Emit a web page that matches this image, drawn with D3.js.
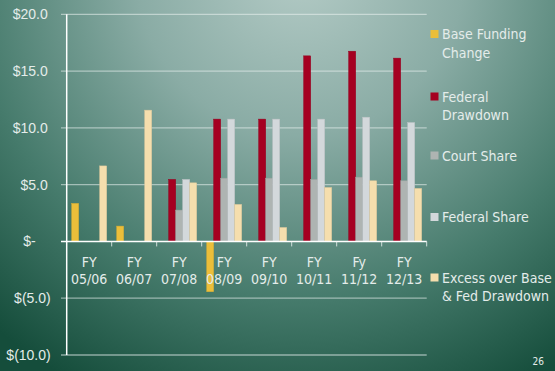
<!DOCTYPE html>
<html><head><meta charset="utf-8">
<script src="https://cdn.jsdelivr.net/npm/d3@7"></script>
<style>
html,body{margin:0;padding:0;overflow:hidden;}
svg{display:block;font-family:"DejaVu Sans Condensed","DejaVu Sans",Verdana,sans-serif;}
</style></head>
<body>
<svg id="chart" width="555" height="371"></svg>
<script>
const categories = ["FY 05/06","FY 06/07","FY 07/08","FY 08/09","FY 09/10","FY 10/11","Fy 11/12","FY 12/13"];
const seriesNames = ["Base Funding Change","Federal Drawdown","Court Share","Federal Share","Excess over Base & Fed Drawdown"];
const legendLines = [["Base Funding","Change"],["Federal","Drawdown"],["Court Share"],["Federal Share"],["Excess over Base","& Fed Drawdown"]];
const baseFunding  = [3.35, 1.35, 0, -4.43, 0, 0, 0, 0];
const fedDrawdown  = [0, 0, 5.46, 10.77, 10.77, 16.34, 16.75, 16.14];
const courtShare   = [0, 0, 2.76, 5.57, 5.57, 5.46, 5.66, 5.34];
const federalShare = [0, 0, 5.46, 10.77, 10.77, 10.77, 10.94, 10.47];
const excess       = [6.65, 11.56, 5.16, 3.26, 1.23, 4.75, 5.34, 4.67];
const yTicks = [-10, -5, 0, 5, 10, 15, 20];
const colors = ["#EBBE3A", "#A50021", "#AEB4B2", "#D3D8DB", "#F5DEAD"];

const series = [baseFunding, fedDrawdown, courtShare, federalShare, excess];
const svg = d3.select("#chart");
const W = 555, H = 371;
const FS = "14px";

// background
const defs = svg.append("defs");
const rg = defs.append("radialGradient").attr("id","bg")
  .attr("gradientUnits","userSpaceOnUse").attr("cx",300).attr("cy",-30).attr("r",470);
rg.append("stop").attr("offset","0%").attr("stop-color","#b4cbc6");
rg.append("stop").attr("offset","35%").attr("stop-color","#8aaca5");
rg.append("stop").attr("offset","70%").attr("stop-color","#467b6c");
rg.append("stop").attr("offset","100%").attr("stop-color","#154d3b");
svg.append("rect").attr("width",W).attr("height",H).attr("fill","url(#bg)");

const x0 = d3.scaleBand().domain(categories).range([66.7, 426.7]).paddingInner(0.2222).paddingOuter(0.1111);
const x1 = d3.scaleBand().domain(d3.range(seriesNames.length)).range([0, x0.bandwidth()]);
const y = d3.scaleLinear().domain([-10, 20]).range([355, 14.3]);

// gridlines
svg.append("g").selectAll("line").data(yTicks.filter(d=>d!==0)).join("line")
  .attr("x1", 61).attr("x2", 426.7).attr("y1", d=>y(d)).attr("y2", d=>y(d))
  .attr("stroke", "rgba(235,242,240,0.55)").attr("stroke-width", 1.3);

// y axis
const fmt = d => d === 0 ? "$-" : (d < 0 ? "$(" + Math.abs(d).toFixed(1) + ")" : "$" + d.toFixed(1));
const yAxis = svg.append("g").attr("transform","translate(66.7,0)")
  .call(d3.axisLeft(y).tickValues(yTicks).tickFormat(fmt).tickSize(0).tickPadding(0));
yAxis.select(".domain").remove();
yAxis.selectAll("text").attr("fill","#e4ecea").attr("font-size",FS)
  .attr("x", d => d === 0 ? -31 : (d < 0 ? -16 : -19));
svg.append("line").attr("x1",66.7).attr("x2",66.7).attr("y1",14.3).attr("y2",355)
  .attr("stroke","#ffffff").attr("stroke-width",1.5);

// bars
const g = svg.append("g");
categories.forEach((c, i) => {
  series.forEach((s, j) => {
    const v = s[i];
    if (v === 0) return;
    g.append("rect")
      .attr("x", x0(c) + x1(j))
      .attr("width", x1.bandwidth())
      .attr("y", y(Math.max(0, v)))
      .attr("height", Math.abs(y(v) - y(0)))
      .attr("fill", colors[j])
      .attr("stroke", d3.color(colors[j]).darker(0.3))
      .attr("stroke-width", 0.5);
  });
});

// x axis (zero line)
const xAxis = svg.append("g").attr("transform", `translate(0,${y(0)})`);
xAxis.append("line").attr("x1",61).attr("x2",426.7).attr("stroke","#ffffff").attr("stroke-width",1.6);
xAxis.selectAll("line.tk").data(categories).join("line").attr("class","tk")
  .attr("x1", d => x0(d) + x0.bandwidth() + 5).attr("x2", d => x0(d) + x0.bandwidth() + 5)
  .attr("y1", 0).attr("y2", 5).attr("stroke","rgba(240,245,244,0.8)").attr("stroke-width",1);
const lbl = xAxis.selectAll("text").data(categories).join("text")
  .attr("text-anchor","middle").attr("fill","#e4ecea").attr("font-size",FS);
lbl.append("tspan").attr("x", d => x0(d) + x0.bandwidth()/2).attr("y", 25.5).text(d => d.split(" ")[0]);
lbl.append("tspan").attr("x", d => x0(d) + x0.bandwidth()/2).attr("y", 43).text(d => d.split(" ")[1]);

// legend
const legendY = [34, 96.5, 155.5, 217, 277.5];
const lg = svg.append("g");
seriesNames.forEach((n, i) => {
  lg.append("rect").attr("x", 430.5).attr("y", legendY[i] - 4).attr("width", 8).attr("height", 8).attr("fill", colors[i]);
  const t = lg.append("text").attr("fill","#e4ecea").attr("font-size",FS);
  legendLines[i].forEach((ln, k) => {
    t.append("tspan").attr("x", 442).attr("y", legendY[i] + 5 + k * 18.5).text(ln);
  });
});

svg.append("text").attr("x", 544).attr("y", 365).attr("text-anchor","end")
  .attr("fill","#e4ecea").attr("font-size","10px").text("26");
</script>
</body></html>
